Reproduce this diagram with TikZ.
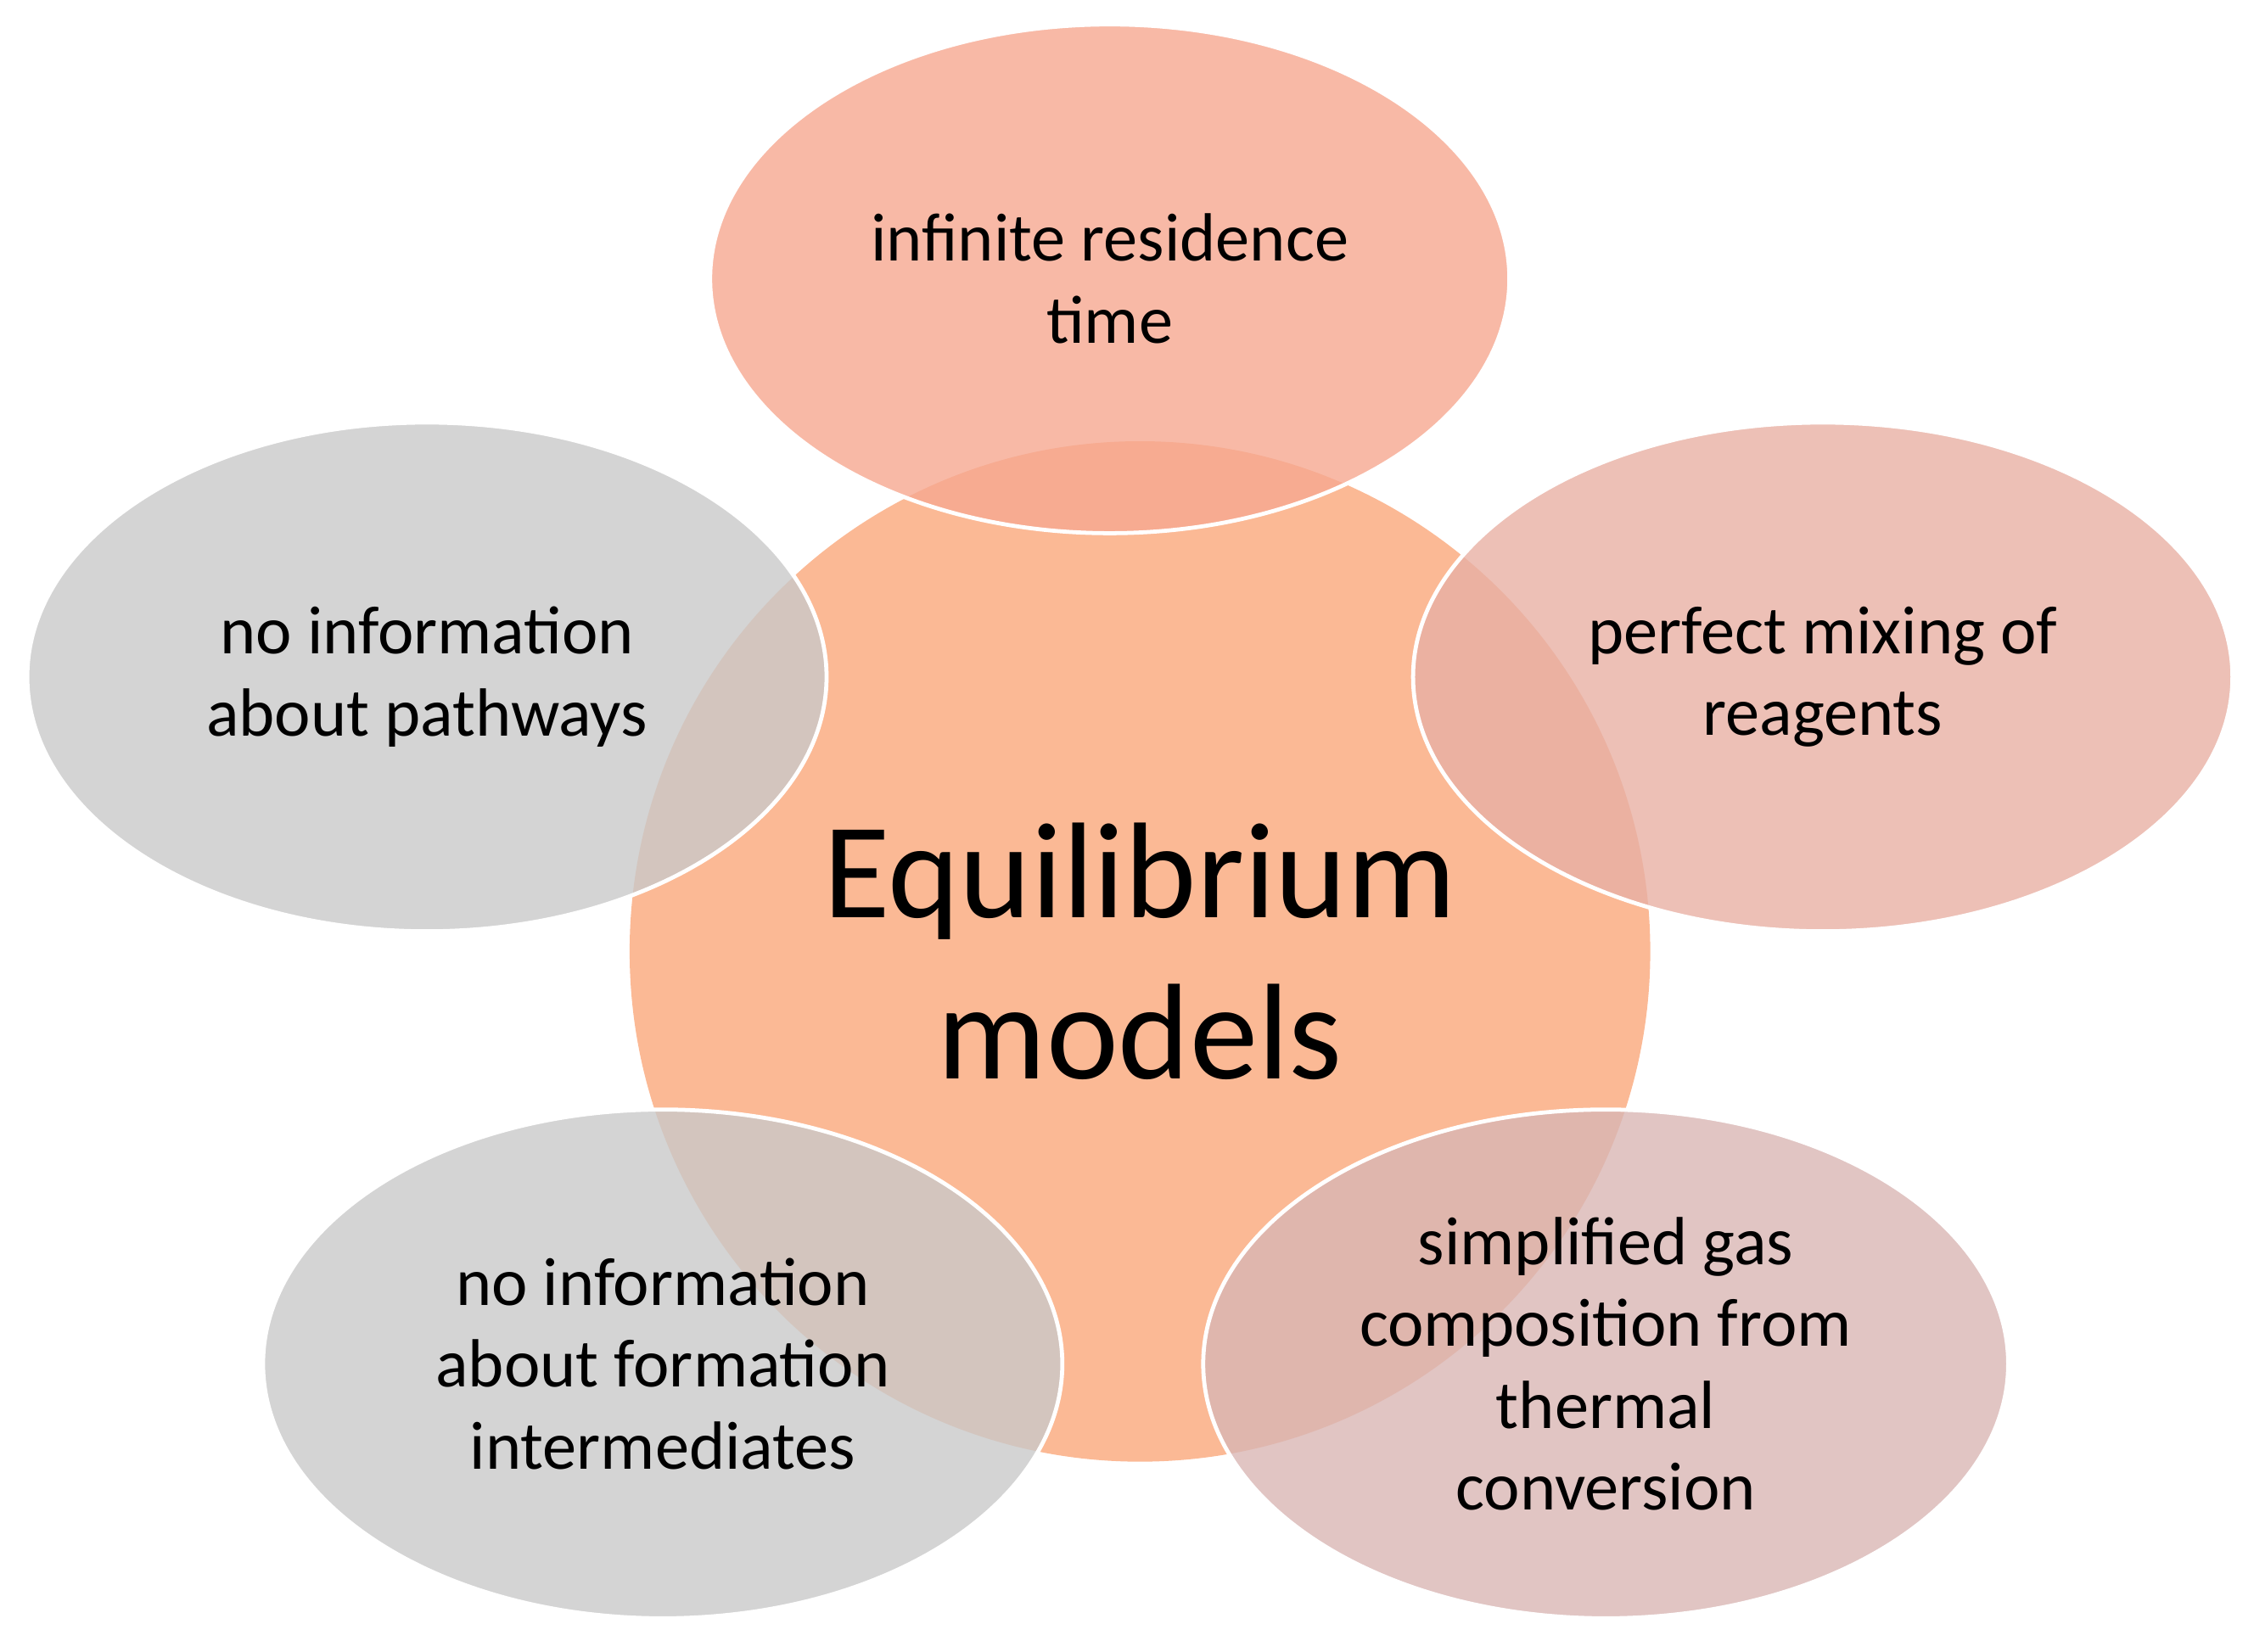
\documentclass[tikz,border=0pt]{standalone}
\usepackage{fontspec}
\setmainfont{Carlito}
\usetikzlibrary{shapes.geometric,positioning}
\definecolor{peach}{HTML}{FBB995}
\definecolor{salmon}{HTML}{F6A890}
\definecolor{rose}{HTML}{E8B0A4}
\definecolor{mauve}{HTML}{D9B6B4}
\definecolor{greyish}{HTML}{C9C9C9}
\begin{document}
\begin{tikzpicture}[
        hub/.style={circle,fill=peach,minimum size=7.1cm,inner sep=0pt,align=center,font=\fontsize{27}{32}\selectfont},
        petal/.style={ellipse,draw=white,thick,fill opacity=0.8,text opacity=1,inner sep=0pt,
            minimum width=5.56cm,minimum height=3.54cm,align=center,font=\fontsize{13.5}{16.2}\selectfont}]
        \useasboundingbox (0,0) rectangle (15.68,11.49);
        \node[hub] at (7.93,4.87) (core) {Equilibrium\\models};
        \node[petal,fill=salmon] at (7.72,9.55) (top) {infinite residence\\time};
        \node[petal,fill=greyish] at (2.97,6.78) (left) {no information\\about pathways};
        \node[petal,fill=rose,minimum width=5.7cm] at (12.68,6.78) (right) {perfect mixing of\\reagents};
        \node[petal,fill=greyish] at (4.61,2.0) (botleft) {no information\\about formation\\intermediates};
        \node[petal,fill=mauve,minimum width=5.6cm] at (11.17,2.0) (botright) {simplified gas\\composition from\\thermal\\conversion};
      \end{tikzpicture}
\end{document}
